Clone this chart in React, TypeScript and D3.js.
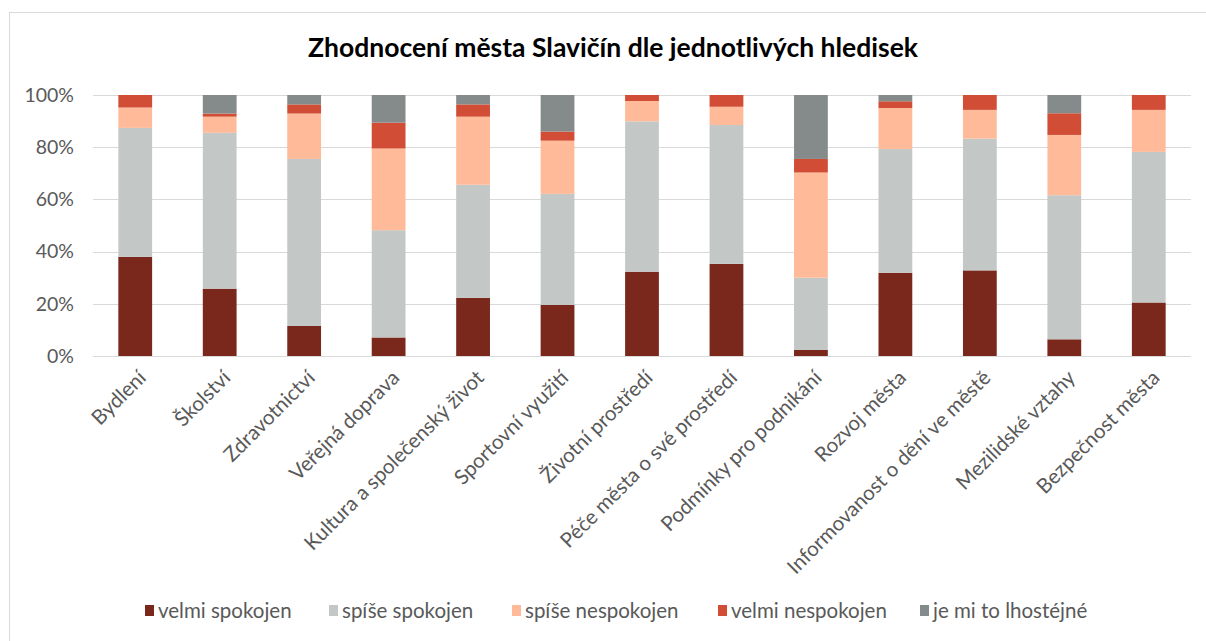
import React, { useEffect, useRef } from 'react';
import * as d3 from 'd3';

const categories = [
  'Bydlení', 'Školství', 'Zdravotnictví', 'Veřejná doprava', 'Kultura a společenský život',
  'Sportovní využití', 'Životní prostředí', 'Péče města o své prostředí', 'Podmínky pro podnikání',
  'Rozvoj města', 'Informovanost o dění ve městě', 'Mezilidské vztahy', 'Bezpečnost města',
];

const velmiSpokojen = [38.0, 25.8, 11.5, 7.1, 22.3, 19.6, 32.3, 35.3, 2.3, 31.9, 32.8, 6.4, 20.5];
const spiseSpokojen = [49.4, 59.7, 64.0, 41.1, 43.3, 42.5, 57.6, 53.2, 27.7, 47.4, 50.5, 55.2, 57.7];
const spiseNespokojen = [7.8, 6.2, 17.4, 31.3, 26.1, 20.4, 7.8, 7.0, 40.3, 15.7, 11.0, 23.1, 16.1];
const velmiNespokojen = [4.8, 1.2, 3.5, 9.9, 4.7, 3.5, 2.3, 4.5, 5.2, 2.6, 5.7, 8.3, 5.7];
const lhostejne = [0, 7.1, 3.6, 10.6, 3.6, 14.0, 0, 0, 24.5, 2.4, 0, 7.0, 0];

const seriesNames = ['velmi spokojen', 'spíše spokojen', 'spíše nespokojen', 'velmi nespokojen', 'je mi to lhostéjné'];
const seriesColors = ['#7a281b', '#c3c8c7', '#ffbb99', '#d14d35', '#848b8a'];
const yTicks = [0, 20, 40, 60, 80, 100];

const FONT = "Lato, 'Open Sans', sans-serif";

const App = () => {
  const ref = useRef<SVGSVGElement | null>(null);

  useEffect(() => {
    document.body.style.margin = '0';
    const svg = d3.select(ref.current);
    svg.selectAll('*').remove();

    const W = 1206, H = 641;
    const margin = { top: 95, right: 15, bottom: 285, left: 93 };
    const width = 1191 - margin.left;
    const height = 356 - margin.top;

    // frame
    svg.append('rect').attr('width', W).attr('height', H).attr('fill', '#fff');
    svg.append('rect')
      .attr('x', 9.5).attr('y', 12.5).attr('width', W + 10).attr('height', H + 10)
      .attr('fill', 'none').attr('stroke', '#d9d9d9');

    svg.append('text')
      .attr('x', 613).attr('y', 57)
      .attr('text-anchor', 'middle')
      .style('font-family', FONT).style('font-weight', 700).style('font-size', '26.5px')
      .attr('fill', '#000')
      .text('Zhodnocení města Slavičín dle jednotlivých hledisek');

    const g = svg.append('g').attr('transform', `translate(${margin.left},${margin.top})`);

    const x = d3.scaleBand().domain(categories).range([0, width]).paddingInner(0.6).paddingOuter(0.3);
    const y = d3.scaleLinear().domain([0, 100]).range([height, 0]);

    // grid
    g.selectAll('line.grid')
      .data(yTicks)
      .enter()
      .append('line')
      .attr('x1', 0).attr('x2', width)
      .attr('y1', d => Math.round(y(d)) + 0.5).attr('y2', d => Math.round(y(d)) + 0.5)
      .attr('stroke', '#d9d9d9').attr('stroke-width', 1.2);

    g.selectAll('text.ytick')
      .data(yTicks)
      .enter()
      .append('text')
      .attr('x', -19).attr('y', d => y(d)).attr('dy', '0.35em')
      .attr('text-anchor', 'end')
      .style('font-family', FONT).style('font-size', '19.5px')
      .attr('fill', '#595959')
      .text(d => `${d}%`);

    const rows = categories.map((c, i) => ({
      cat: c,
      s0: velmiSpokojen[i], s1: spiseSpokojen[i], s2: spiseNespokojen[i], s3: velmiNespokojen[i], s4: lhostejne[i],
    }));
    const keys = ['s0', 's1', 's2', 's3', 's4'];
    const stacked = d3.stack<any>().keys(keys)(rows);

    g.selectAll('g.layer')
      .data(stacked)
      .enter()
      .append('g')
      .attr('fill', (d, i) => seriesColors[i])
      .selectAll('rect')
      .data(d => d)
      .enter()
      .append('rect')
      .attr('x', d => x(d.data.cat)!)
      .attr('width', x.bandwidth())
      .attr('y', d => y(d[1]))
      .attr('height', d => Math.max(0, y(d[0]) - y(d[1])));

    // x labels
    g.selectAll('text.xlab')
      .data(categories)
      .enter()
      .append('text')
      .attr('transform', d => `translate(${x(d)! + x.bandwidth() / 2 + 7},${height + 18}) rotate(-45)`)
      .attr('text-anchor', 'end')
      .attr('dy', '0.35em')
      .style('font-family', FONT).style('font-size', '20.5px')
      .attr('fill', '#595959')
      .text(d => d);

    // legend
    const legendX = [145, 329, 512, 718, 920];
    const legend = svg.append('g');
    seriesNames.forEach((name, i) => {
      legend.append('rect')
        .attr('x', legendX[i]).attr('y', 605).attr('width', 9).attr('height', 11)
        .attr('fill', seriesColors[i]);
      legend.append('text')
        .attr('x', legendX[i] + 13).attr('y', 611).attr('dy', '0.35em')
        .style('font-family', FONT).style('font-size', '20.5px')
        .attr('fill', '#595959')
        .text(name);
    });
  }, []);

  return <svg ref={ref} width={1206} height={641} style={{ display: 'block' }}></svg>;
};

export default App;
